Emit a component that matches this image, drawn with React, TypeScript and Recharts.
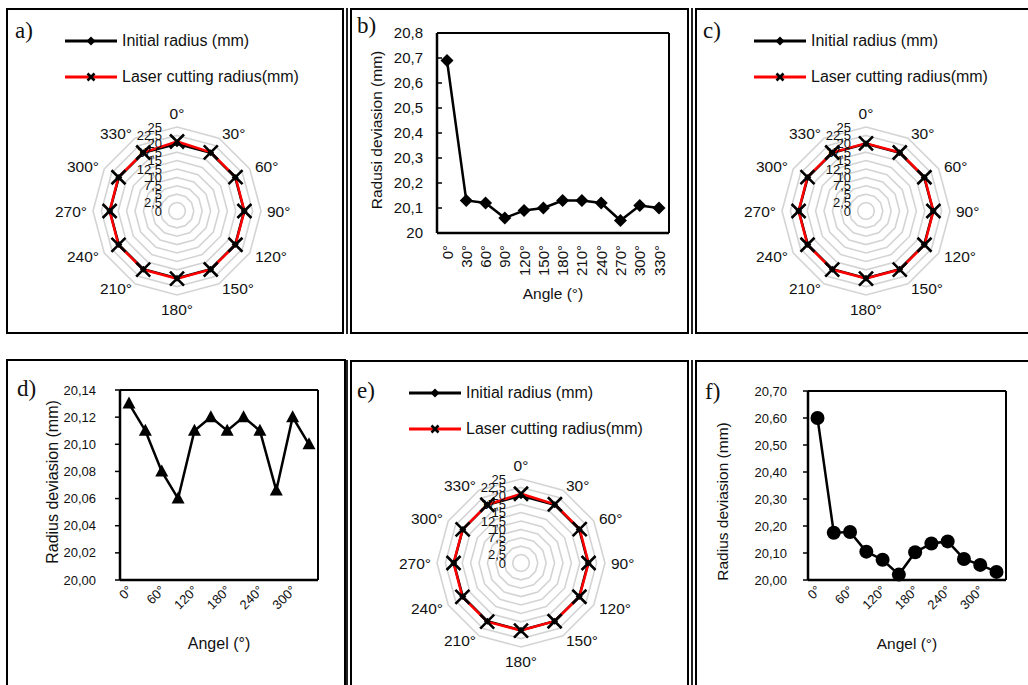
import React from 'react';
import {
    LineChart, Line, XAxis, YAxis, CartesianGrid,
    RadarChart, Radar, PolarGrid, PolarAngleAxis, PolarRadiusAxis, Legend,
} from 'recharts';

// ─── Data ─────────────────────────────────────────────────────────────────────

const ANGLES = ['0°', '30°', '60°', '90°', '120°', '150°', '180°', '210°', '240°', '270°', '300°', '330°'];
const INITIAL_RADIUS = [20, 20, 20, 20, 20, 20, 20, 20, 20, 20, 20, 20];

// laser cutting radius per sample (a/b, c/d, e/f share the same values)
const LASER_RADIUS_B = [20.69, 20.13, 20.12, 20.06, 20.09, 20.10, 20.13, 20.13, 20.12, 20.05, 20.11, 20.10];
const LASER_RADIUS_D = [20.13, 20.11, 20.08, 20.06, 20.11, 20.12, 20.11, 20.12, 20.11, 20.066, 20.12, 20.10];
const LASER_RADIUS_F = [20.60, 20.175, 20.178, 20.105, 20.075, 20.02, 20.103, 20.135, 20.143, 20.078, 20.056, 20.03];

const RADIUS_TICKS = [0, 2.5, 5, 7.5, 10, 12.5, 15, 17.5, 20, 22.5, 25];
const TICKS_B = [20, 20.1, 20.2, 20.3, 20.4, 20.5, 20.6, 20.7, 20.8];
const TICKS_D = [20, 20.02, 20.04, 20.06, 20.08, 20.1, 20.12, 20.14];
const TICKS_F = [20, 20.1, 20.2, 20.3, 20.4, 20.5, 20.6, 20.7];

const RADAR_NAMES = { initial: 'Initial radius (mm)', laser: 'Laser cutting radius(mm)' };

// ─── Helpers ──────────────────────────────────────────────────────────────────

const FONT = '"Liberation Sans", Arial, sans-serif';
const SERIF = '"Liberation Serif", "Times New Roman", serif';
const INK = '#111';

const radarRows = (laser: number[]) =>
    ANGLES.map((angle, i) => ({ angle, initial: INITIAL_RADIUS[i], laser: laser[i] }));
const lineRows = (laser: number[]) => ANGLES.map((angle, i) => ({ angle, value: laser[i] }));

const comma = (v: number, decimals?: number) =>
    (decimals == null ? String(v) : v.toFixed(decimals)).replace('.', ',');

const diamondPath = (cx: number, cy: number, s: number) =>
    `M${cx},${cy - s}L${cx + s},${cy}L${cx},${cy + s}L${cx - s},${cy}Z`;
const crossPath = (cx: number, cy: number, s: number) =>
    `M${cx - s},${cy - s}L${cx + s},${cy + s}M${cx - s},${cy + s}L${cx + s},${cy - s}`;

const makeDiamondDot = (s: number) => (p: any) =>
    <path key={`dm-${p.index}`} d={diamondPath(p.cx, p.cy, s)} fill="#000" />;
const makeCrossDot = (s: number) => (p: any) =>
    <path key={`cr-${p.index}`} d={crossPath(p.cx, p.cy, s)} stroke="#000" strokeWidth={2.6} fill="none" />;
const triangleDot = (p: any) => (
    <path key={`tr-${p.index}`} d={`M${p.cx},${p.cy - 7}L${p.cx + 6.5},${p.cy + 5}L${p.cx - 6.5},${p.cy + 5}Z`} fill="#000" />
);
const circleDot = (p: any) => <circle key={`ci-${p.index}`} cx={p.cx} cy={p.cy} r={7} fill="#000" />;

// ─── Radar panel ──────────────────────────────────────────────────────────────

const RADAR_W = 334;
const RADAR_H = 322;
const RADAR_CX = 169;
const RADAR_CY = 201;
const RADAR_R = 84;

function AngleTick(props: any) {
    const { x, y, payload } = props;
    const cx = props.cx ?? RADAR_CX;
    const cy = props.cy ?? RADAR_CY;
    const dx = x - cx;
    const dy = y - cy;
    const len = Math.hypot(dx, dy) || 1;
    const ux = dx / len;
    const uy = dy / len;
    const anchor = Math.abs(ux) < 0.1 ? 'middle' : ux > 0 ? 'start' : 'end';
    const shift = anchor === 'middle' ? uy * 8 : 0;
    return (
        <text x={x} y={y + shift} textAnchor={anchor} dominantBaseline="central" fontSize={15.5} fill={INK}>
            {payload.value}
        </text>
    );
}

function RadiusTick(props: any) {
    const { x, y, payload } = props;
    return (
        <text x={x - 15} y={y} textAnchor="end" dominantBaseline="central" fontSize={13} fill={INK}>
            {comma(Number(payload.value))}
        </text>
    );
}

function RadarLegend(props: any) {
    const items = props.payload ?? [];
    return (
        <div>
            {items.map((entry: any) => (
                <div key={entry.value} style={{ display: 'flex', alignItems: 'center', height: 36 }}>
                    <svg width={54} height={16}>
                        <line x1={1} y1={8} x2={53} y2={8} stroke={entry.color} strokeWidth={2.8} />
                        {entry.dataKey === 'initial'
                            ? <path d={diamondPath(27, 8, 4.5)} fill="#000" />
                            : <path d={crossPath(27, 8, 3.5)} stroke="#000" strokeWidth={2.6} />}
                    </svg>
                    <span style={{ marginLeft: 4, fontSize: 16, color: INK, whiteSpace: 'nowrap' }}>{entry.value}</span>
                </div>
            ))}
        </div>
    );
}

function RadarPanel({ left, top, laser }: { left: number; top: number; laser: number[] }) {
    return (
        <div style={{ position: 'absolute', left, top }}>
            <RadarChart
                width={RADAR_W}
                height={RADAR_H}
                data={radarRows(laser)}
                cx={RADAR_CX}
                cy={RADAR_CY}
                outerRadius={RADAR_R}
                margin={{ top: 0, right: 0, bottom: 0, left: 0 }}
            >
                <PolarGrid gridType="polygon" radialLines={false} stroke="#d4d4d4" strokeWidth={1.6} />
                <PolarAngleAxis dataKey="angle" axisLine={false} tickLine={false} tickSize={6} tick={AngleTick} />
                <PolarRadiusAxis
                    type="number"
                    angle={90}
                    domain={[0, 25]}
                    ticks={RADIUS_TICKS as any}
                    tickCount={11}
                    axisLine={false}
                    tickLine={false}
                    tick={RadiusTick}
                />
                <Radar
                    name={RADAR_NAMES.initial}
                    dataKey="initial"
                    stroke="#000"
                    strokeWidth={2.5}
                    fill="none"
                    fillOpacity={0}
                    dot={makeDiamondDot(3.5)}
                    isAnimationActive={false}
                />
                <Radar
                    name={RADAR_NAMES.laser}
                    dataKey="laser"
                    stroke="#ff0000"
                    strokeWidth={2.5}
                    fill="none"
                    fillOpacity={0}
                    dot={makeCrossDot(7)}
                    isAnimationActive={false}
                />
                <Legend
                    verticalAlign="top"
                    align="left"
                    layout="vertical"
                    wrapperStyle={{ left: 56, top: 13, width: 'auto' }}
                    content={RadarLegend}
                />
            </RadarChart>
        </div>
    );
}

// ─── Line panel ───────────────────────────────────────────────────────────────

interface LinePanelProps {
    left: number;
    top: number;
    width: number;
    height: number;
    margin: { top: number; right: number; bottom: number; left: number };
    laser: number[];
    ticks: number[];
    decimals?: number;
    yTitle: string;
    xTitle: string;
    yTitleDx: number;
    yTitleDy: number;
    xTitleDy: number;
    titleSize: number;
    tickSize: number;
    yTickLen: number;
    yTickGap: number;
    pad: number;
    xTickMode: 'vertical' | 'diagonal';
    xHeight: number;
    dot: (p: any) => React.ReactElement;
}

function LinePanel(p: LinePanelProps) {
    const verticalTick = (t: any) => (
        <text
            x={t.x}
            y={t.y}
            transform={`rotate(-90 ${t.x} ${t.y})`}
            textAnchor="end"
            dominantBaseline="central"
            fontSize={p.tickSize}
            fill={INK}
        >
            {t.payload.value}
        </text>
    );
    const diagonalTick = (t: any) => (
        <text
            x={t.x + 1}
            y={t.y}
            transform={`rotate(-45 ${t.x + 1} ${t.y})`}
            textAnchor="end"
            dominantBaseline="central"
            fontSize={p.tickSize}
            fill={INK}
        >
            {t.payload.value}
        </text>
    );
    const yTitle = (l: any) => {
        const vb = l.viewBox;
        const x = vb.x + vb.width + p.yTitleDx;
        const y = vb.y + vb.height / 2 + p.yTitleDy;
        return (
            <text x={x} y={y} transform={`rotate(-90 ${x} ${y})`} textAnchor="middle" dominantBaseline="central"
                fontSize={p.titleSize} fill={INK}>
                {p.yTitle}
            </text>
        );
    };
    const xTitle = (l: any) => {
        const vb = l.viewBox;
        return (
            <text x={vb.x + vb.width / 2} y={vb.y + p.xTitleDy} textAnchor="middle" dominantBaseline="central"
                fontSize={p.titleSize} fill={INK}>
                {p.xTitle}
            </text>
        );
    };
    const lo = p.ticks[0];
    const hi = p.ticks[p.ticks.length - 1];

    return (
        <div style={{ position: 'absolute', left: p.left, top: p.top }}>
            <LineChart width={p.width} height={p.height} data={lineRows(p.laser)} margin={p.margin}>
                <CartesianGrid
                    stroke="#000"
                    strokeWidth={2}
                    fill="none"
                    horizontalCoordinatesGenerator={(g: any) => [g.offset.top, g.offset.top + g.offset.height]}
                    verticalCoordinatesGenerator={(g: any) => [g.offset.left, g.offset.left + g.offset.width]}
                />
                <XAxis
                    dataKey="angle"
                    interval={p.xTickMode === 'vertical' ? 0 : 1}
                    padding={{ left: p.pad, right: p.pad }}
                    height={p.xHeight}
                    axisLine={{ stroke: '#000', strokeWidth: 2.5 }}
                    tickLine={false}
                    tickSize={6}
                    tickMargin={p.xTickMode === 'vertical' ? 6 : 2}
                    tick={p.xTickMode === 'vertical' ? verticalTick : diagonalTick}
                    label={xTitle}
                />
                <YAxis
                    type="number"
                    domain={[lo, hi]}
                    ticks={p.ticks}
                    interval={0}
                    width={60}
                    axisLine={{ stroke: '#000', strokeWidth: 2.5 }}
                    tickLine={{ stroke: '#000', strokeWidth: 1.5 }}
                    tickSize={p.yTickLen}
                    tickMargin={p.yTickGap}
                    tick={{ fontSize: p.tickSize, fill: INK }}
                    tickFormatter={(v: number) => comma(v, p.decimals)}
                    label={yTitle}
                />
                <Line
                    type="linear"
                    dataKey="value"
                    stroke="#000"
                    strokeWidth={2.5}
                    dot={p.dot}
                    activeDot={false}
                    isAnimationActive={false}
                />
            </LineChart>
        </div>
    );
}

// ─── Frame ────────────────────────────────────────────────────────────────────

function Frame({ left, top, width, height, double }: { left: number; top: number; width: number; height: number; double?: boolean }) {
    return (
        <>
            {double && (
                <div style={{ position: 'absolute', left: left - 4, top, width: 1.5, height, background: '#222' }} />
            )}
            <div
                style={{
                    position: 'absolute', left, top, width, height,
                    border: '2px solid #000', boxSizing: 'border-box',
                }}
            />
        </>
    );
}

function PanelLabel({ left, baseline, text }: { left: number; baseline: number; text: string }) {
    return (
        <div
            style={{
                position: 'absolute', left, top: baseline - 19.3,
                fontFamily: SERIF, fontSize: 23, lineHeight: '23px', color: INK,
            }}
        >
            {text}
        </div>
    );
}

export default function App() {
    return (
        <div
            style={{
                position: 'absolute', left: 0, top: 0, width: 1028, height: 685,
                overflow: 'hidden', background: '#fff', fontFamily: FONT,
            }}
        >
            <Frame left={6} top={8} width={338} height={326} />
            <Frame left={350} top={8} width={339} height={326} double />
            <Frame left={695} top={8} width={340} height={326} double />
            <Frame left={6} top={359} width={340} height={340} />
            <Frame left={350} top={360} width={339} height={340} double />
            <Frame left={695} top={360} width={340} height={340} double />

            <RadarPanel left={8} top={10} laser={LASER_RADIUS_B} />
            <RadarPanel left={697} top={10} laser={LASER_RADIUS_D} />
            <RadarPanel left={352} top={362} laser={LASER_RADIUS_F} />

            <LinePanel
                left={352} top={10} width={335} height={322}
                margin={{ top: 23, right: 18, left: 25, bottom: 59 }}
                laser={LASER_RADIUS_B} ticks={TICKS_B}
                yTitle="Radusi deviasion (mm)" xTitle="Angle (°)"
                yTitleDx={-61} yTitleDy={-3} xTitleDy={60} titleSize={15.5}
                tickSize={15} yTickLen={-5} yTickGap={19} pad={10}
                xTickMode="vertical" xHeight={40} dot={makeDiamondDot(6.5)}
            />
            <LinePanel
                left={8} top={361} width={336} height={324}
                margin={{ top: 29, right: 26, left: 52, bottom: 75 }}
                laser={LASER_RADIUS_D} ticks={TICKS_D} decimals={2}
                yTitle="Radius deviasion (mm)" xTitle="Angel (°)"
                yTitleDx={-68} yTitleDy={-3} xTitleDy={63} titleSize={16}
                tickSize={13} yTickLen={5} yTickGap={19} pad={9}
                xTickMode="diagonal" xHeight={30} dot={triangleDot}
            />
            <LinePanel
                left={697} top={362} width={331} height={323}
                margin={{ top: 29, right: 22, left: 51, bottom: 75 }}
                laser={LASER_RADIUS_F} ticks={TICKS_F} decimals={2}
                yTitle="Radius deviasion (mm)" xTitle="Angel (°)"
                yTitleDx={-86} yTitleDy={16} xTitleDy={63} titleSize={15.5}
                tickSize={13} yTickLen={5} yTickGap={16} pad={9.5}
                xTickMode="diagonal" xHeight={30} dot={circleDot}
            />

            <PanelLabel left={15} baseline={38} text="a)" />
            <PanelLabel left={357} baseline={33} text="b)" />
            <PanelLabel left={703} baseline={38} text="c)" />
            <PanelLabel left={17} baseline={396} text="d)" />
            <PanelLabel left={357} baseline={398} text="e)" />
            <PanelLabel left={705} baseline={399} text="f)" />
        </div>
    );
}
